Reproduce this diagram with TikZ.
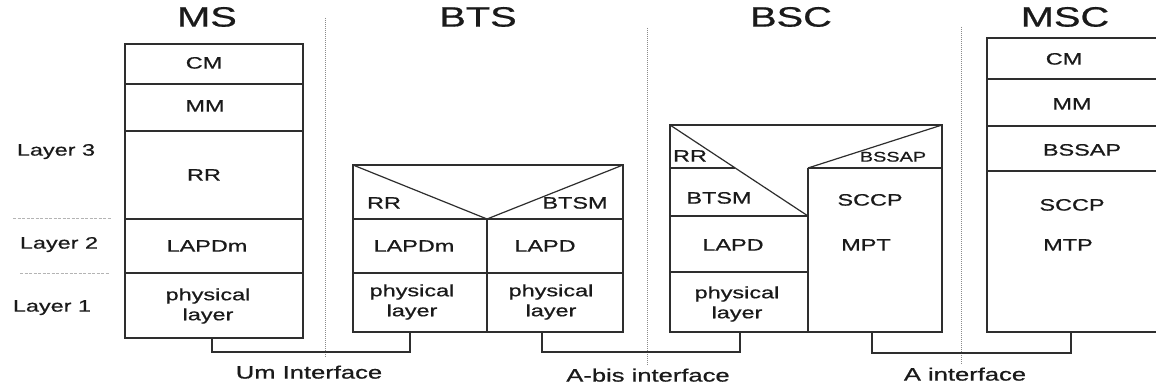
\documentclass[tikz,border=0pt]{standalone}
\usepackage{fontspec}
\setmainfont{Liberation Sans}
\newfontfamily\heavy{Liberation Sans}[FakeBold=0.6]
\definecolor{linec}{HTML}{2E2E2E}
\definecolor{txtc}{HTML}{1A1A1A}
\definecolor{dotc}{HTML}{8A8A8A}
\definecolor{ldotc}{HTML}{B4B4B4}
\newcommand{\hs}[1]{\scalebox{1.42}[1]{#1}}
\begin{document}
\begin{tikzpicture}[x=1pt,y=-1pt,
  box/.style={draw=linec, line width=1.2pt, line join=miter},
  conn/.style={draw=linec, line width=1.2pt},
  vdot/.style={draw=dotc, line width=1pt, dash pattern=on 1pt off 1pt},
  ldot/.style={draw=ldotc, line width=1pt, dash pattern=on 3pt off 1.5pt},
  lbl/.style={inner sep=0pt, text=txtc, font=\heavy\fontsize{16.5}{20}\selectfont, text height=0.72em, text depth=0pt},
  lbltwo/.style={inner sep=0pt, text=txtc, font=\heavy\fontsize{16.5}{20}\selectfont, align=center},
  small/.style={inner sep=0pt, text=txtc, font=\heavy\fontsize{14}{16}\selectfont, text height=0.72em, text depth=0pt},
  ttl/.style={inner sep=0pt, text=txtc, font=\heavy\fontsize{28}{30}\selectfont, text height=0.72em, text depth=0pt},
  iface/.style={inner sep=0pt, text=txtc, font=\heavy\fontsize{18}{20}\selectfont, text height=0.72em, text depth=0pt}
]
\useasboundingbox (0,0) rectangle (1156,387);
\fill[white] (0,0) rectangle (1156,387);

% titles
\node[ttl] (tms) at (207,23) {\hs{MS}};
\node[ttl] (tbts) at (478,23) {\hs{BTS}};
\node[ttl] (tbsc) at (791,23) {\hs{BSC}};
\node[ttl] (tmsc) at (1065,23) {\hs{MSC}};

% layer labels
\node[lbl] (l3) at (56,152) {\hs{Layer 3}};
\node[lbl] (l2) at (59,245) {\hs{Layer 2}};
\node[lbl] (l1) at (52,308) {\hs{Layer 1}};
\draw[ldot] (13,219) -- (112,219);
\draw[ldot] (20,274) -- (110,274);

% interface dotted lines
\draw[vdot] (325,18) -- (325,358);
\draw[vdot] (647,28) -- (647,366);
\draw[vdot] (961,27) -- (961,365);

% MS stack
\draw[box] (125,44) rectangle (303,338);
\draw[box] (125,84) -- (303,84);
\draw[box] (125,131) -- (303,131);
\draw[box] (125,219) -- (303,219);
\draw[box] (125,273) -- (303,273);
\node[lbl] (mscm) at (204,65) {\hs{CM}};
\node[lbl] (msmm) at (205,108) {\hs{MM}};
\node[lbl] (msrr) at (204,177) {\hs{RR}};
\node[lbl] (mslapdm) at (207,248) {\hs{LAPDm}};
\node[lbltwo] (msphy) at (208,306) {\hs{physical}\\\hs{layer}};

% BTS stack
\draw[box] (353,165) rectangle (623,332);
\draw[box] (353,219) -- (623,219);
\draw[box] (353,273) -- (623,273);
\draw[box] (487,219) -- (487,332);
\draw[box] (353,165) -- (487,219) -- (623,165);
\node[lbl] (btsrr) at (384,205) {\hs{RR}};
\node[lbl] (btsbtsm) at (575,205) {\hs{BTSM}};
\node[lbl] (btslapdm) at (414,248) {\hs{LAPDm}};
\node[lbl] (btslapd) at (545,248) {\hs{LAPD}};
\node[lbltwo] (btsphyl) at (412,302) {\hs{physical}\\\hs{layer}};
\node[lbltwo] (btsphyr) at (551,302) {\hs{physical}\\\hs{layer}};

% BSC stack
\draw[box] (670,125) rectangle (942,332);
\draw[box] (670,125) -- (808,216);
\draw[box] (670,168) -- (735,168);
\draw[box] (670,216) -- (808,216);
\draw[box] (670,272) -- (808,272);
\draw[box] (808,168) -- (808,332);
\draw[box] (808,168) -- (942,125);
\draw[box] (808,168) -- (942,168);
\node[lbl] (bscrr) at (690,158) {\hs{RR}};
\node[small] (bscbssap) at (893,158) {\hs{BSSAP}};
\node[lbl] (bscbtsm) at (719,200) {\hs{BTSM}};
\node[lbl] (bscsccp) at (870,202) {\hs{SCCP}};
\node[lbl] (bsclapd) at (733,247) {\hs{LAPD}};
\node[lbl] (bscmpt) at (866,247) {\hs{MPT}};
\node[lbltwo] (bscphy) at (737,304) {\hs{physical}\\\hs{layer}};

% MSC stack
\draw[box] (1156,38) -- (987,38) -- (987,332) -- (1156,332);
\draw[box] (987,79) -- (1156,79);
\draw[box] (987,126) -- (1156,126);
\draw[box] (987,171) -- (1156,171);
\node[lbl] (msccm) at (1064,61) {\hs{CM}};
\node[lbl] (mscmm) at (1072,106) {\hs{MM}};
\node[lbl] (mscbssap) at (1082,152) {\hs{BSSAP}};
\node[lbl] (mscsccp) at (1072,207) {\hs{SCCP}};
\node[lbl] (mscmtp) at (1068,247) {\hs{MTP}};

% connector endpoints
\coordinate (msB) at (212,338);
\coordinate (btsL) at (410,332);
\coordinate (btsR) at (542,332);
\coordinate (bscL) at (740,332);
\coordinate (bscR) at (872,332);
\coordinate (mscB) at (1071,332);
\coordinate (um) at (309,352);
\coordinate (ab) at (640,352);
\coordinate (ai) at (965,353);

\draw[conn] (msB) |- (um) -| (btsL);
\draw[conn] (btsR) |- (ab) -| (bscL);
\draw[conn] (bscR) |- (ai) -| (mscB);

% interface labels
\node[iface] (umlbl) at (309,375) {\hs{Um Interface}};
\node[iface] (ablbl) at (648,378) {\hs{A-bis interface}};
\node[iface] (ailbl) at (965,377) {\hs{A interface}};
\end{tikzpicture}
\end{document}
